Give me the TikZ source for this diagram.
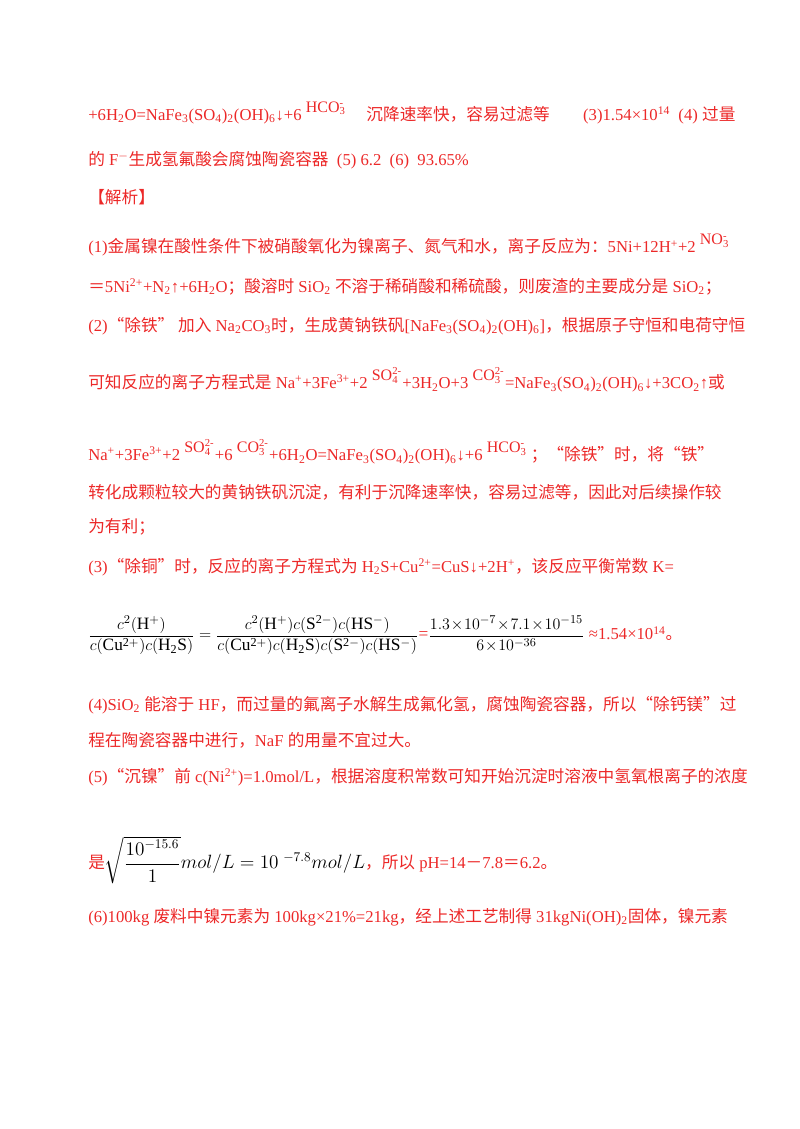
\documentclass[tikz,border=0pt]{standalone}
\usepackage{fontspec}
\setmainfont{Liberation Serif}
\newfontfamily\cjk{Noto Sans CJK SC}
\usepackage{amsmath}
\definecolor{ansred}{RGB}{236,40,40}
\newcommand{\zh}[1]{{\cjk #1}}
\newcommand{\ion}[3]{\raisebox{6pt}{\large #1\rlap{\textsuperscript{#3}}\textsubscript{#2}}}
\newcommand{\sub}[1]{\textsubscript{#1}}
\newcommand{\sups}[1]{\textsuperscript{#1}}

\begin{document}
\begin{tikzpicture}[x=1pt,y=1pt,
	line/.style={anchor=west,inner sep=0pt,text=ansred,font=\fontsize{12.5}{15}\selectfont}]
	\useasboundingbox(0,0) rectangle (600,-846.75);
	\node[line](r1) at (66,-84.75){+6H\sub{2}O=NaFe\sub{3}(SO\sub{4})\sub{2}(OH)\sub{6}↓+6 \ion{HCO}{3}{-}\quad\ \zh{沉降速率快，容易过滤等}\qquad (3)1.54×10\sups{14}\ \ (4) \zh{过量}};
	\node[line](r2) at (66,-120){\zh{的} F\textsuperscript{$-$}\zh{生成氢氟酸会腐蚀陶瓷容器}\ \ (5)\ 6.2\ \ (6)\ \ 93.65\%};
	\node[line](r3) at (66,-148){\zh{【解析】}};
	\node[line](r4) at (66,-184){(1)\zh{金属镍在酸性条件下被硝酸氧化为镍离子、氮气和水，离子反应为：}5Ni+12H\sups{+}+2 \ion{NO}{3}{-}};
	\node[line](r5) at (66,-215){\zh{＝}5Ni\sups{2+}+N\sub{2}↑+6H\sub{2}O\zh{；酸溶时} SiO\sub{2} \zh{不溶于稀硝酸和稀硫酸，则废渣的主要成分是} SiO\sub{2}\zh{；}};
	\node[line](r6) at (66,-244.5){(2)\zh{“除铁” 加入} Na\sub{2}CO\sub{3}\zh{时，生成黄钠铁矾}[NaFe\sub{3}(SO\sub{4})\sub{2}(OH)\sub{6}]\zh{，根据原子守恒和电荷守恒}};
	\node[line](r7) at (66,-285){\zh{可知反应的离子方程式是} Na\sups{+}+3Fe\sups{3+}+2 \ion{SO}{4}{2-}\ +3H\sub{2}O+3 \ion{CO}{3}{2-}\ =NaFe\sub{3}(SO\sub{4})\sub{2}(OH)\sub{6}↓+3CO\sub{2}↑\zh{或}};
	\node[line](r8) at (66,-339){Na\sups{+}+3Fe\sups{3+}+2 \ion{SO}{4}{2-}\ +6 \ion{CO}{3}{2-}\ +6H\sub{2}O=NaFe\sub{3}(SO\sub{4})\sub{2}(OH)\sub{6}↓+6 \ion{HCO}{3}{-}\ \zh{；“除铁”时，将“铁”}};
	\node[line](r9) at (66,-369){\zh{转化成颗粒较大的黄钠铁矾沉淀，有利于沉降速率快，容易过滤等，因此对后续操作较}};
	\node[line](r10) at (66,-395.25){\zh{为有利；}};
	\node[line](r11) at (66,-425.25){(3)\zh{“除铜”时，反应的离子方程式为} H\sub{2}S+Cu\sups{2+}=CuS↓+2H\sups{+}\zh{，该反应平衡常数} K=};
	\node[line,font=\fontsize{13}{15}\selectfont](r12) at (66,-476.25){\textcolor{black}{$\dfrac{c^2(\mathrm{H^+})}{c(\mathrm{Cu^{2+}})c(\mathrm{H_2S})}=\dfrac{c^2(\mathrm{H^+})c(\mathrm{S^{2-}})c(\mathrm{HS^-})}{c(\mathrm{Cu^{2+}})c(\mathrm{H_2S})c(\mathrm{S^{2-}})c(\mathrm{HS^-})}$}=\textcolor{black}{$\dfrac{1.3\!\times\!10^{-7}\!\times\!7.1\!\times\!10^{-15}}{6\!\times\!10^{-36}}$}\ {\fontsize{12.5}{15}\selectfont ≈1.54×10\sups{14}\zh{。}}};
	\node[line](r13) at (66,-528.75){(4)SiO\sub{2} \zh{能溶于} HF\zh{，而过量的氟离子水解生成氟化氢，腐蚀陶瓷容器，所以“除钙镁”过}};
	\node[line](r14) at (66,-555){\zh{程在陶瓷容器中进行，}NaF \zh{的用量不宜过大。}};
	\node[line](r15) at (66,-582.75){(5)\zh{“沉镍”前} c(Ni\sups{2+})=1.0mol/L\zh{，根据溶度积常数可知开始沉淀时溶液中氢氧根离子的浓度}};
	\node[line](r16) at (66,-645){\zh{是}\textcolor{black}{\fontsize{14}{16}\selectfont$\sqrt{\dfrac{10^{-15.6}}{1}}mol/L=10^{\ -7.8}mol/L$}\zh{，所以} pH=14\zh{－}7.8\zh{＝}6.2\zh{。}};
	\node[line](r17) at (66,-687.75){(6)100kg \zh{废料中镍元素为} 100kg×21\%=21kg\zh{，经上述工艺制得} 31kgNi(OH)\sub{2}\zh{固体，镍元素}};
\end{tikzpicture}
\end{document}
